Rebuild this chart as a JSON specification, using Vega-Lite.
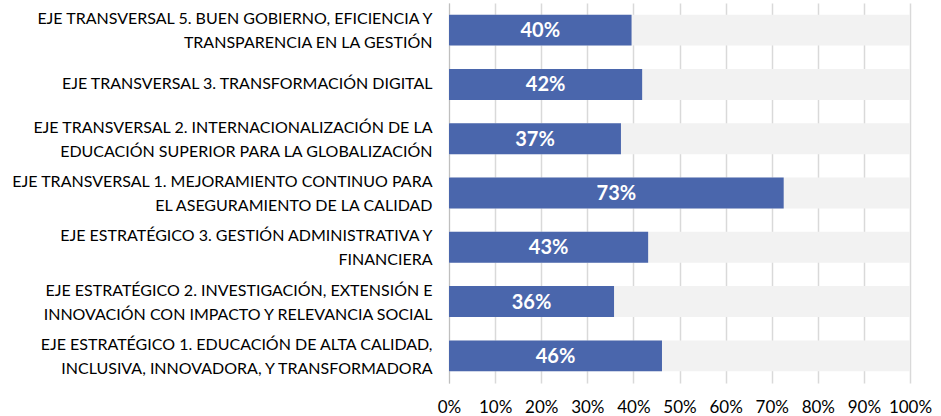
{
  "$schema": "https://vega.github.io/schema/vega-lite/v6.json",
  "width": 461,
  "height": 380,
  "autosize": {"type": "none"},
  "padding": {"left": 449, "top": 3, "right": 31, "bottom": 33},
  "background": "white",
  "config": {"view": {"stroke": null}, "font": "Lato"},
  "data": {
    "values": [
      {"eje": "EJE TRANSVERSAL 5. BUEN GOBIERNO, EFICIENCIA Y|TRANSPARENCIA EN LA GESTIÓN", "valor": 0.396, "total": 1},
      {"eje": "EJE TRANSVERSAL 3. TRANSFORMACIÓN DIGITAL", "valor": 0.419, "total": 1},
      {"eje": "EJE TRANSVERSAL 2. INTERNACIONALIZACIÓN DE LA|EDUCACIÓN SUPERIOR PARA LA GLOBALIZACIÓN", "valor": 0.373, "total": 1},
      {"eje": "EJE TRANSVERSAL 1. MEJORAMIENTO CONTINUO PARA|EL ASEGURAMIENTO DE LA CALIDAD", "valor": 0.726, "total": 1},
      {"eje": "EJE ESTRATÉGICO 3. GESTIÓN ADMINISTRATIVA Y|FINANCIERA", "valor": 0.432, "total": 1},
      {"eje": "EJE ESTRATÉGICO 2. INVESTIGACIÓN, EXTENSIÓN E|INNOVACIÓN CON IMPACTO Y RELEVANCIA SOCIAL", "valor": 0.358, "total": 1},
      {"eje": "EJE ESTRATÉGICO 1. EDUCACIÓN DE ALTA CALIDAD,|INCLUSIVA, INNOVADORA, Y TRANSFORMADORA", "valor": 0.462, "total": 1}
    ]
  },
  "transform": [{"calculate": "datum.valor / 2", "as": "medio"}],
  "encoding": {
    "y": {
      "field": "eje",
      "type": "nominal",
      "sort": null,
      "scale": {"paddingInner": 0.43, "paddingOuter": 0.215},
      "axis": {
        "title": null,
        "labelExpr": "split(datum.label, '|')",
        "labelFont": "Lato",
        "labelFontSize": 16,
        "labelColor": "#000000",
        "labelLineHeight": 24,
        "labelLimit": 460,
        "labelPadding": 17,
        "labelOffset": {"condition": {"test": "indexof(datum.label, '|') >= 0", "value": -11}, "value": 0},
        "ticks": false,
        "domain": true,
        "domainColor": "#bfbfbf",
        "domainWidth": 1
      }
    }
  },
  "layer": [
    {
      "mark": {"type": "bar", "color": "#f2f2f2"},
      "encoding": {
        "x": {
          "field": "total",
          "type": "quantitative",
          "scale": {"domain": [0, 1], "nice": false},
          "axis": {
            "title": null,
            "format": ".0%",
            "values": [0, 0.1, 0.2, 0.3, 0.4, 0.5, 0.6, 0.7, 0.8, 0.9, 1],
            "grid": true,
            "gridColor": "#d9d9d9",
            "gridWidth": 1.5,
            "ticks": false,
            "domain": false,
            "labelFont": "Lato",
            "labelFontSize": 17,
            "labelColor": "#000000",
            "labelPadding": 16,
            "labelFlush": false
          }
        }
      }
    },
    {
      "mark": {"type": "bar", "color": "#4a66ac"},
      "encoding": {
        "x": {"field": "valor", "type": "quantitative"}
      }
    },
    {
      "mark": {"type": "text", "color": "white", "fontWeight": "bold", "fontSize": 20, "font": "Lato", "align": "center", "baseline": "middle", "dy": 1},
      "encoding": {
        "x": {"field": "medio", "type": "quantitative"},
        "text": {"field": "valor", "type": "quantitative", "format": ".0%"}
      }
    }
  ]
}
